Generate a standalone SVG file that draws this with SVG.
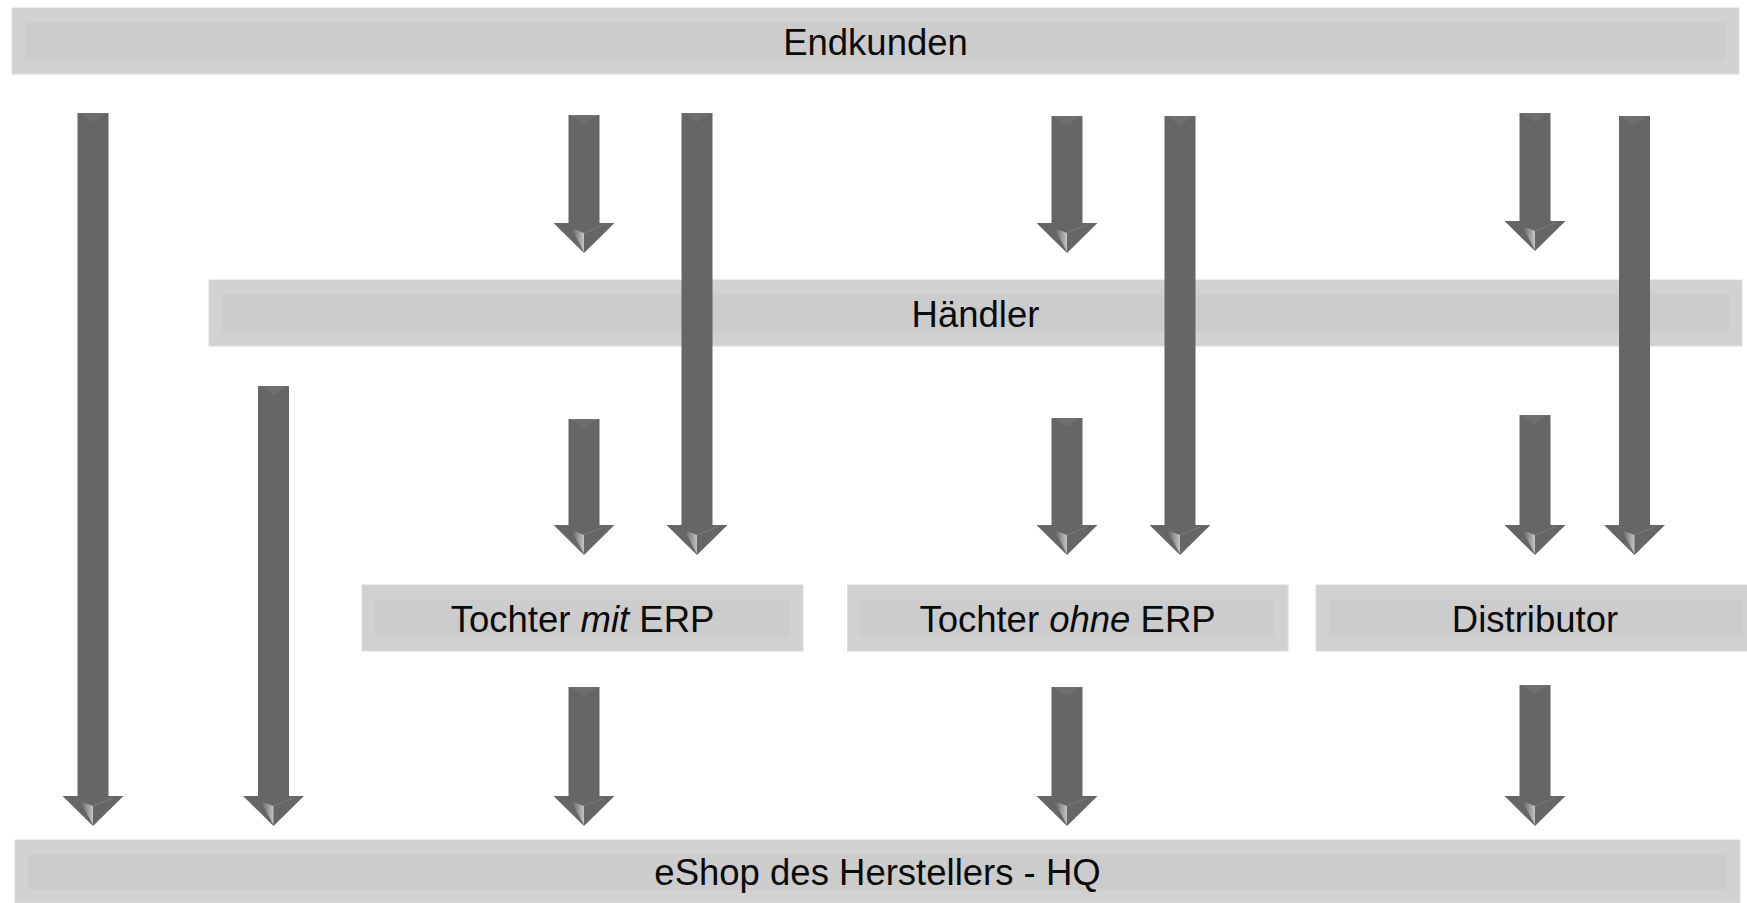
<svg xmlns="http://www.w3.org/2000/svg" xmlns:xlink="http://www.w3.org/1999/xlink" width="1747" height="903" viewBox="0 0 1747 903">
<style>
  .bar-out{fill:#d1d1d1;stroke:#dcdcdc;stroke-width:1}
  .bar-in{fill:#cccccc}
  .lbl{font-family:"Liberation Sans",Arial,sans-serif;font-size:36.5px;fill:#0a0a0a;text-anchor:middle}
  .shaft{fill:#666666}
  .chev{fill:#6f6f6f}
</style>
<defs>
  <linearGradient id="facet" x1="0" y1="0" x2="1" y2="0">
    <stop offset="0" stop-color="#5c5c5c"/>
    <stop offset="1" stop-color="#c4c4c4"/>
  </linearGradient>
  <g id="head">
    <polygon points="-30.5,-30 30.5,-30 0,0" fill="#666666"/>
    <polygon points="-13,-25 0,-20 0,-1" fill="url(#facet)"/>
    <polyline points="0,-20 20,-28" fill="none" stroke="#787878" stroke-width="1.2"/>
  </g>
  <g id="chevron">
    <polygon points="-14,0 14,0 0,9" class="chev"/>
  </g>
</defs>

<g id="node-endkunden">
  <rect class="bar-out" x="12" y="8" width="1727" height="66"/>
  <rect class="bar-in" x="25" y="22" width="1701" height="38"/>
  <text class="lbl" x="875.5" y="55">Endkunden</text>
</g>

<g id="node-haendler">
  <rect class="bar-out" x="209" y="280" width="1533" height="66"/>
  <rect class="bar-in" x="222" y="294" width="1507" height="38"/>
  <text class="lbl" x="975.5" y="327">Händler</text>
</g>

<g id="node-tochter-mit">
  <rect class="bar-out" x="362" y="585" width="441" height="66"/>
  <rect class="bar-in" x="375" y="599" width="415" height="38"/>
  <text class="lbl" x="582.5" y="632">Tochter <tspan font-style="italic">mit</tspan> ERP</text>
</g>

<g id="node-tochter-ohne">
  <rect class="bar-out" x="847.5" y="585" width="440.5" height="66"/>
  <rect class="bar-in" x="860.5" y="599" width="414.5" height="38"/>
  <text class="lbl" x="1067.5" y="632">Tochter <tspan font-style="italic">ohne</tspan> ERP</text>
</g>

<g id="node-distributor">
  <rect class="bar-out" x="1316" y="585" width="440" height="66"/>
  <rect class="bar-in" x="1329" y="599" width="414" height="38"/>
  <text class="lbl" x="1535" y="632">Distributor</text>
</g>

<g id="node-eshop">
  <rect class="bar-out" x="15" y="840" width="1725" height="63"/>
  <rect class="bar-in" x="28" y="854" width="1699" height="36"/>
  <text class="lbl" x="877.5" y="885">eShop des Herstellers - HQ</text>
</g>

<g id="connectors">
  <g><rect class="shaft" x="77.5" y="113" width="31" height="684"/><use xlink:href="#chevron" x="93" y="113"/><use xlink:href="#head" x="93" y="826"/></g>
  <g><rect class="shaft" x="258" y="386" width="31" height="411"/><use xlink:href="#chevron" x="273.5" y="386"/><use xlink:href="#head" x="273.5" y="826"/></g>
  <g><rect class="shaft" x="568.5" y="115" width="31" height="109"/><use xlink:href="#chevron" x="584" y="115"/><use xlink:href="#head" x="584" y="253"/></g>
  <g><rect class="shaft" x="681.5" y="113" width="31" height="413"/><use xlink:href="#chevron" x="697" y="113"/><use xlink:href="#head" x="697" y="555"/></g>
  <g><rect class="shaft" x="568.5" y="419" width="31" height="107"/><use xlink:href="#chevron" x="584" y="419"/><use xlink:href="#head" x="584" y="555"/></g>
  <g><rect class="shaft" x="568.5" y="687" width="31" height="110"/><use xlink:href="#chevron" x="584" y="687"/><use xlink:href="#head" x="584" y="826"/></g>
  <g><rect class="shaft" x="1051.5" y="116" width="31" height="108"/><use xlink:href="#chevron" x="1067" y="116"/><use xlink:href="#head" x="1067" y="253"/></g>
  <g><rect class="shaft" x="1164.5" y="116" width="31" height="410"/><use xlink:href="#chevron" x="1180" y="116"/><use xlink:href="#head" x="1180" y="555"/></g>
  <g><rect class="shaft" x="1051.5" y="418" width="31" height="108"/><use xlink:href="#chevron" x="1067" y="418"/><use xlink:href="#head" x="1067" y="555"/></g>
  <g><rect class="shaft" x="1051.5" y="687" width="31" height="110"/><use xlink:href="#chevron" x="1067" y="687"/><use xlink:href="#head" x="1067" y="826"/></g>
  <g><rect class="shaft" x="1519.5" y="113" width="31" height="109"/><use xlink:href="#chevron" x="1535" y="113"/><use xlink:href="#head" x="1535" y="251"/></g>
  <g><rect class="shaft" x="1619" y="116" width="31" height="410"/><use xlink:href="#chevron" x="1634.5" y="116"/><use xlink:href="#head" x="1634.5" y="555"/></g>
  <g><rect class="shaft" x="1519.5" y="415" width="31" height="111"/><use xlink:href="#chevron" x="1535" y="415"/><use xlink:href="#head" x="1535" y="555"/></g>
  <g><rect class="shaft" x="1519.5" y="685" width="31" height="112"/><use xlink:href="#chevron" x="1535" y="685"/><use xlink:href="#head" x="1535" y="826"/></g>
</g>
</svg>
